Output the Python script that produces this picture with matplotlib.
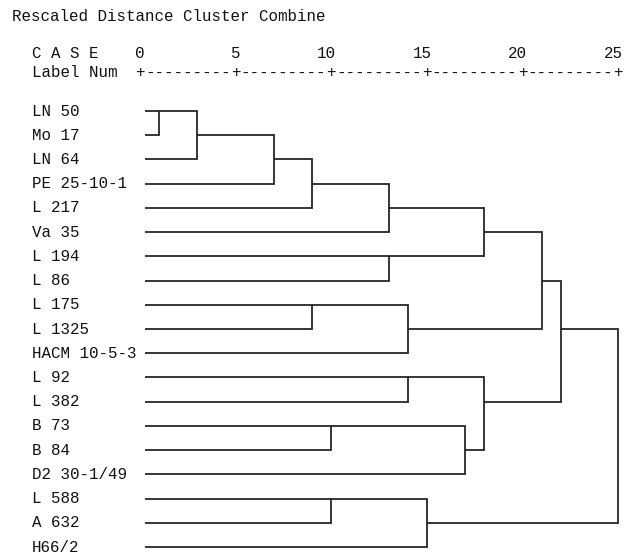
import math

import matplotlib
matplotlib.use("Agg")
import matplotlib.pyplot as plt

# leaves in dendrogram order (top to bottom)
labels = [
    "LN 50", "Mo 17", "LN 64", "PE 25-10-1", "L 217", "Va 35", "L 194",
    "L 86", "L 175", "L 1325", "HACM 10-5-3", "L 92", "L 382", "B 73",
    "B 84", "D2 30-1/49", "L 588", "A 632", "H66/2",
]

# agglomeration steps: ids < 19 are leaves, id 19 + k is the node made at step k
merge_left = [0, 19, 20, 21, 22, 6, 23, 8, 26, 25, 11, 13, 30, 29, 28, 16, 34, 33]
merge_right = [1, 2, 3, 4, 5, 7, 24, 9, 10, 27, 12, 14, 15, 31, 32, 17, 18, 35]
merge_height = [1, 3, 7, 9, 13, 13, 18, 9, 14, 21, 14, 10, 17, 18, 22, 10, 15, 25]

ticks = [0, 5, 10, 15, 20, 25]

W, H = 626, 556
FONT = "Liberation Mono"
FS = 11.4
LINE = "#262626"

fig = plt.figure(figsize=(W / 100, H / 100), dpi=100)
fig.patch.set_facecolor("white")

# axes frame: distance 0..25 across, one row per case
x0_px, x1_px = 140, 618
y0_px, y1_px = 111, 547
ax = fig.add_axes([x0_px / W, 1 - y1_px / H, (x1_px - x0_px) / W, (y1_px - y0_px) / H])
ax.set_xlim(0, 25)
ax.set_ylim(len(labels) - 1, 0)
ax.axis("off")

leaf_start = 0.25
pos = {i: (leaf_start, i) for i in range(len(labels))}
n = len(labels)
for k, (a, b, h) in enumerate(zip(merge_left, merge_right, merge_height)):
    xa, ya = pos[a]
    xb, yb = pos[b]
    ax.plot([xa, h, h, xb], [ya, ya, yb, yb], color=LINE, lw=1.3,
            solid_joinstyle="miter", solid_capstyle="butt", clip_on=False)
    pos[n + k] = (h, math.floor((ya + yb) / 2))

txt = dict(family=FONT, fontsize=FS, color="#111111", va="center", clip_on=False)

label_x = -5.65
for i, lab in enumerate(labels):
    ax.text(label_x, i, lab, ha="left", **txt)

# header: title, column captions and the ruler
ax.text(-6.69, -3.92, "Rescaled Distance Cluster Combine", ha="left", **txt)
ax.text(label_x, -2.39, "C A S E", ha="left", **txt)
ax.text(label_x, -1.57, "Label Num", ha="left", **txt)
for t in ticks:
    ax.text(t + 0.25, -2.39, str(t), ha="right", **txt)
    ax.text(t, -1.57, "+", ha="center", **txt)
for a, b in zip(ticks[:-1], ticks[1:]):
    ax.text((a + b) / 2, -1.57, "-" * 9, ha="center", **txt)

fig.savefig("out.png", dpi=100, facecolor="white")
